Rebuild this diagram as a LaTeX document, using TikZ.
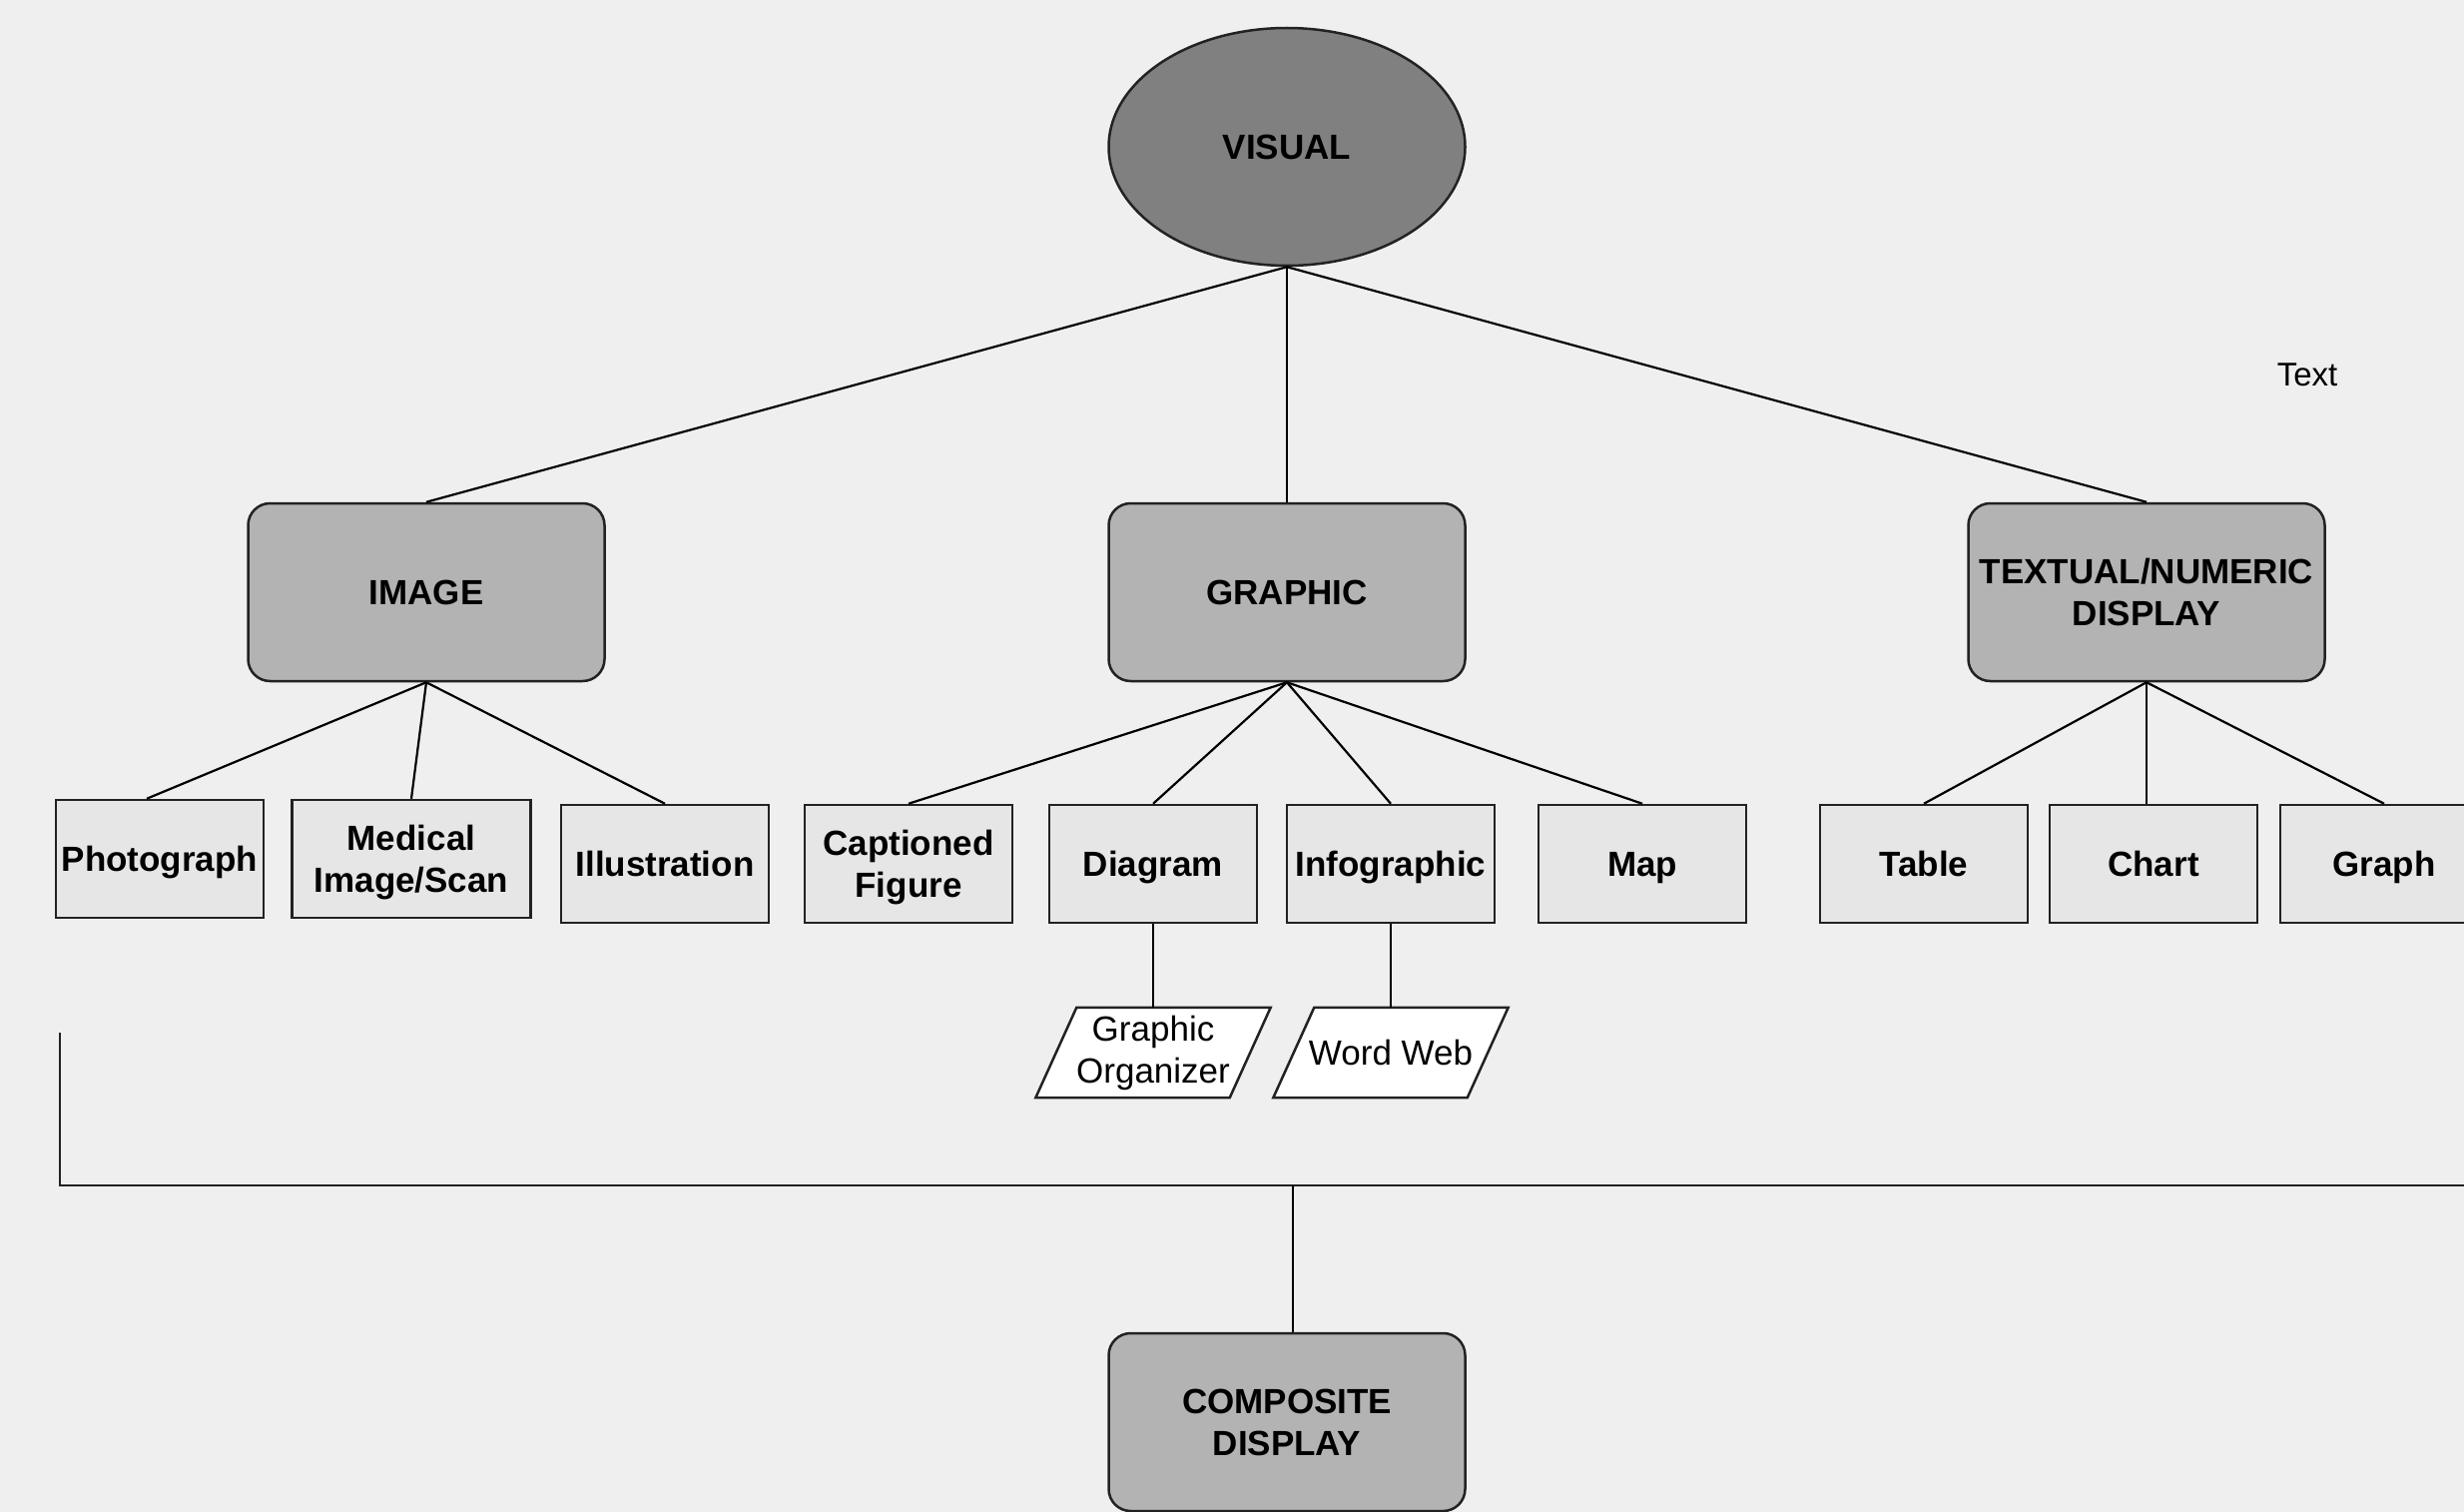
\documentclass[tikz,border=0pt]{standalone}
\usepackage{fontspec}
\setmainfont{Liberation Sans}
\usetikzlibrary{shapes.geometric}
\definecolor{bg}{HTML}{EFEFEF}
\definecolor{topfill}{HTML}{808080}
\definecolor{midfill}{HTML}{B3B3B3}
\definecolor{leaffill}{HTML}{E6E6E6}
\definecolor{edgecol}{HTML}{222222}
\begin{document}
\begin{tikzpicture}[x=1pt,y=-1pt,
  every node/.style={align=center, inner sep=0pt},
  lbl/.style={font=\fontsize{35}{42}\selectfont\bfseries, text depth=0pt},
  topnode/.style={lbl, ellipse, draw=edgecol, line width=2.5pt, fill=topfill,
    minimum width=357pt, minimum height=238pt},
  midbox/.style={lbl, rectangle, rounded corners=22pt, draw=edgecol, line width=2.5pt,
    fill=midfill, minimum width=357pt, minimum height=178pt},
  leafbox/.style={lbl, rectangle, draw=edgecol, line width=2.5pt, fill=leaffill,
    minimum width=208pt, minimum height=118pt},
  paratext/.style={font=\fontsize{35}{42}\selectfont, rectangle,
    minimum width=194pt, minimum height=90pt},
  paraline/.style={draw=edgecol, fill=white, line width=2.5pt},
  link/.style={draw=black, line width=2.2pt}]
\fill[bg] (0,0) rectangle (2468,1514);
\useasboundingbox (0,0) rectangle (2468,1514);
\clip (0,0) rectangle (2468,1514);

% nodes
\node[topnode] (vis) at (1289,147) {VISUAL};
\node[midbox] (img) at (427,593) {IMAGE};
\node[midbox] (gra) at (1289,593) {GRAPHIC};
\node[midbox] (tex) at (2150,593) {TEXTUAL/NUMERIC\\DISPLAY};
\node[midbox] (comp) at (1289,1424) {COMPOSITE\\DISPLAY};

\node[leafbox] (ph) at (160,860) {Photograph};
\node[leafbox, minimum width=239pt] (med) at (412,860) {Medical\\Image/Scan};
\node[leafbox] (ill) at (666,865) {Illustration};
\node[leafbox] (cap) at (910,865) {Captioned\\Figure};
\node[leafbox] (dia) at (1155,865) {Diagram};
\node[leafbox] (inf) at (1393,865) {Infographic};
\node[leafbox] (map) at (1645,865) {Map};
\node[leafbox] (tab) at (1927,865) {Table};
\node[leafbox] (cha) at (2157,865) {Chart};
\node[leafbox] (gph) at (2388,865) {Graph};

% parallelograms
\node[paratext] (gorg) at (1155,1054) {};
\draw[paraline] ([xshift=-20.5pt]gorg.south west) -- ([xshift=20.5pt]gorg.north west)
  -- ([xshift=20.5pt]gorg.north east) -- ([xshift=-20.5pt]gorg.south east) -- cycle;
\node[paratext] at (gorg) {Graphic\\Organizer};
\node[paratext] (ww) at (1393,1054) {};
\draw[paraline] ([xshift=-20.5pt]ww.south west) -- ([xshift=20.5pt]ww.north west)
  -- ([xshift=20.5pt]ww.north east) -- ([xshift=-20.5pt]ww.south east) -- cycle;
\node[paratext] at (ww) {Word Web};

\node[font=\fontsize{33}{40}\selectfont] (txt) at (2311,375) {Text};

% connectors
\draw[link] (vis.south) -- (img.north);
\draw[link] (vis.south) -- (gra.north);
\draw[link] (vis.south) -- (tex.north);

\draw[link] (img.south) -- ([xshift=-13pt]ph.north);
\draw[link] (img.south) -- (med.north);
\draw[link] (img.south) -- (ill.north);

\draw[link] (gra.south) -- (cap.north);
\draw[link] (gra.south) -- (dia.north);
\draw[link] (gra.south) -- (inf.north);
\draw[link] (gra.south) -- (map.north);

\draw[link] (tex.south) -- (tab.north);
\draw[link] (tex.south) -- (tex.south |- cha.north);
\draw[link] (tex.south) -- (gph.north);

\draw[link] (dia.south) -- (dia.south |- gorg.north);
\draw[link] (inf.south) -- (inf.south |- ww.north);

\coordinate (bl) at (60,1034);
\coordinate (bc) at (60,1187);
\coordinate (br) at (2480,1187);
\coordinate (bj) at (1295,1187);
\draw[link, line width=2.8pt, draw=edgecol] (bl) -- (bc) -- (br);
\draw[link] (bj) -- (bj |- comp.north);
\end{tikzpicture}
\end{document}
